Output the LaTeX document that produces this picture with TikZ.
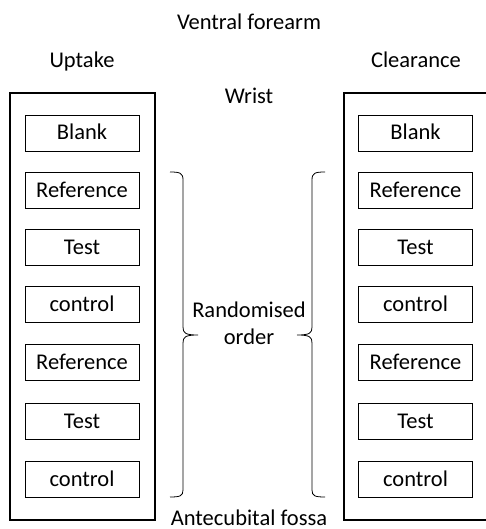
\documentclass[tikz,border=0pt]{standalone}
\usepackage{fontspec}
\setmainfont{Carlito}
\begin{document}
\begin{tikzpicture}[x=1pt,y=-1pt,
  lbl/.style={font=\fontsize{22.5}{26}\selectfont, inner sep=0pt, anchor=base},
  outerbox/.style={draw, line width=2pt, minimum width=#1, minimum height=426pt, inner sep=0pt},
  itembox/.style={draw, line width=0.8pt, minimum width=114pt, minimum height=36pt, inner sep=0pt},
  itemtxt/.style={font=\fontsize{22.5}{26}\selectfont, inner sep=0pt, anchor=base},
  bracepath/.style={line width=0.8pt}]
\useasboundingbox (0,0) rectangle (486,529);
% outer boxes
\node[outerbox=145pt] (L) at (82.5,306.5) {};
\node[outerbox=160pt] (R) at (424,306.5) {};
% titles
\node[lbl] (vf) at (249,30) {Ventral forearm};
\node[lbl] (up) at (82,68) {Uptake};
\node[lbl] (cl) at (416,68) {Clearance};
\node[lbl] (wr) at (249,104) {Wrist};
\node[lbl] (ro1) at (249,317) {Randomised};
\node[lbl] (ro2) at (249,344) {order};
\node[lbl] (af) at (249,525) {Antecubital fossa};
% inner boxes
\foreach \t/\y [count=\i] in {Blank/133, Reference/190, Test/247, control/304, Reference/362, Test/421, control/479}{
  \node[itembox] (l\i) at (82,\y) {};
  \node[itemtxt] at ([yshift=-7pt]l\i.center) {\t};
  \node[itembox] (r\i) at (415.5,\y) {};
  \node[itemtxt] at ([yshift=-7pt]r\i.center) {\t};
}
% braces
\draw[bracepath] (170,172) .. controls (180,172) and (183,173) .. (183,180)
  -- (183,327) .. controls (183,333) and (185,335) .. (198,335)
  (198,335) .. controls (185,335) and (183,337) .. (183,343)
  -- (183,490) .. controls (183,496) and (180,497) .. (170,497);
\draw[bracepath] (325,172) .. controls (315,172) and (312,173) .. (312,180)
  -- (312,327) .. controls (312,333) and (310,335) .. (297,335)
  (297,335) .. controls (310,335) and (312,337) .. (312,343)
  -- (312,490) .. controls (312,496) and (315,497) .. (325,497);
\end{tikzpicture}
\end{document}
